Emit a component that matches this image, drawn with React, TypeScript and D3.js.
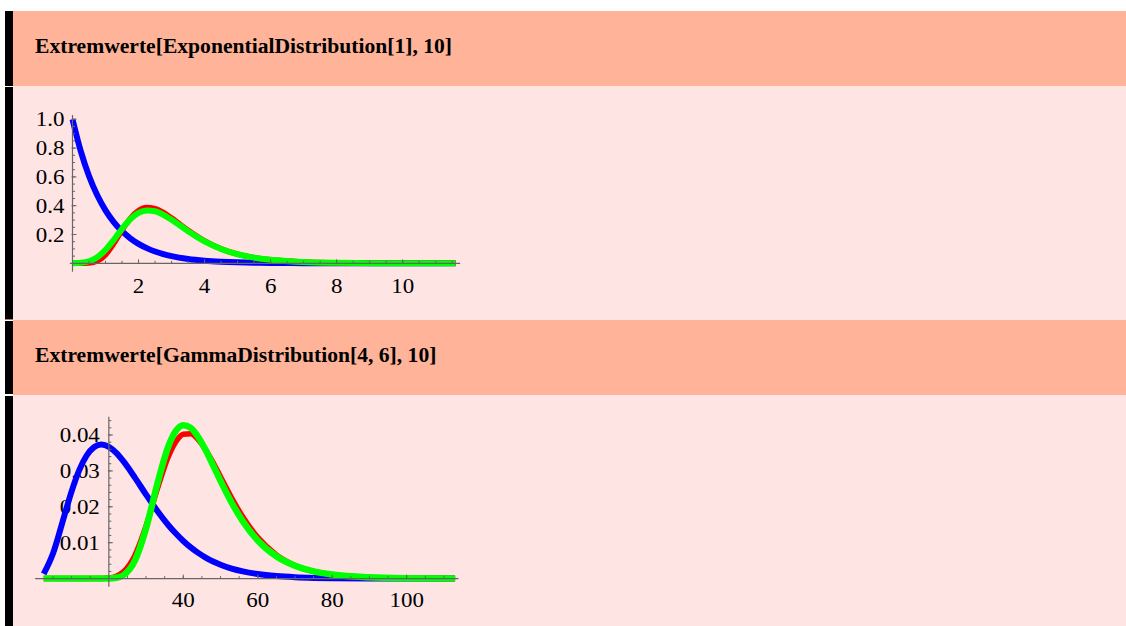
import React from 'react';
import * as d3 from 'd3';

const W = 1126;
const H = 626;

// ---------- texts ----------
const header1 = 'Extremwerte[ExponentialDistribution[1], 10]';
const header2 = 'Extremwerte[GammaDistribution[4, 6], 10]';

// ---------- plot 1 data (ExponentialDistribution[1]) ----------
const expX = [0, 0.25, 0.5, 0.75, 1, 1.25, 1.5, 1.75, 2, 2.25, 2.5, 2.75, 3, 3.5, 4, 4.5, 5, 5.5, 6, 7, 8, 9, 10, 11.6];
const expBlue = [1, 0.7788, 0.6065, 0.4724, 0.3679, 0.2865, 0.2231, 0.1738, 0.1353, 0.1054, 0.0821, 0.0639, 0.0498, 0.0302, 0.0183, 0.0111, 0.0067, 0.0041, 0.0025, 0.0009, 0.0003, 0.0001, 0.00005, 0.00001];
const expRed = [0, 0.00001, 0.0014, 0.015, 0.0593, 0.1373, 0.2302, 0.3118, 0.3658, 0.3868, 0.3797, 0.3528, 0.3144, 0.2291, 0.1551, 0.1005, 0.0634, 0.0394, 0.0242, 0.0091, 0.0033, 0.0012, 0.0005, 0.0001];
const expGreen = [0.0005, 0.0032, 0.0141, 0.0419, 0.0929, 0.1632, 0.2397, 0.3057, 0.3497, 0.3673, 0.3612, 0.3374, 0.3026, 0.2233, 0.1525, 0.0994, 0.063, 0.0392, 0.0242, 0.009, 0.0033, 0.0012, 0.0005, 0.0001];
const expXTicks = [2, 4, 6, 8, 10];
const expYTicks = [0.2, 0.4, 0.6, 0.8, 1.0];

// ---------- plot 2 data (GammaDistribution[4, 6]) ----------
const gamX = [2.5, 5, 8, 10, 12, 14, 16, 18, 20, 22, 24, 27, 30, 33, 36, 38, 40, 42, 44, 46, 48, 50, 53, 56, 60, 65, 70, 75, 80, 90, 100, 113];
const gamBlue = [0.0013, 0.00699, 0.01736, 0.02429, 0.03008, 0.03422, 0.0366, 0.03734, 0.0367, 0.035, 0.03256, 0.02812, 0.0234, 0.01889, 0.01487, 0.01256, 0.01048, 0.00869, 0.00716, 0.00586, 0.00477, 0.00387, 0.00279, 0.002, 0.00126, 0.0007, 0.00038, 0.0002, 0.00011, 0.00003, 0.00001, 0];
const gamRed = [0, 0, 0, 0, 0, 0, 0.00001, 0.00003, 0.00017, 0.00067, 0.00196, 0.00647, 0.01466, 0.02488, 0.03401, 0.03812, 0.04023, 0.04032, 0.03874, 0.03591, 0.03232, 0.02837, 0.02246, 0.01716, 0.01148, 0.00662, 0.00368, 0.00199, 0.00106, 0.00029, 0.00008, 0.00001];
const gamGreen = [0, 0, 0, 0, 0, 0, 0, 0, 0.00003, 0.00022, 0.001, 0.00499, 0.01402, 0.02626, 0.03686, 0.04113, 0.04274, 0.042, 0.03946, 0.0358, 0.03157, 0.02723, 0.02113, 0.01595, 0.01063, 0.00622, 0.00357, 0.00202, 0.00114, 0.00036, 0.00011, 0.00002];
const gamXTicks = [40, 60, 80, 100];
const gamYTicks = [0.01, 0.02, 0.03, 0.04];

const SALMON = '#ffb399';
const PINK = '#ffe4e4';
const AXIS = '#666666';
const FONT = '"Liberation Serif", "Times New Roman", serif';

type PlotSpec = {
  xs: number[];
  series: { vals: number[]; color: string; width: number }[];
  x: d3.ScaleLinear<number, number>;
  y: d3.ScaleLinear<number, number>;
  ox: number;
  xAxisExt: [number, number];
  yAxisExt: [number, number];
  xMinor: number[];
  yMinor: number[];
  xMajor: number[];
  yMajor: number[];
  xLabels: number[];
  yLabels: number[];
  yFmt: (v: number) => string;
  xLabelDy: number;
  yLabelGap: number;
};

function Plot({ p }: { p: PlotSpec }) {
  const ax = p.x(p.ox);
  const ay = p.y(0);
  const line = d3
    .line<[number, number]>()
    .x((d) => p.x(d[0]))
    .y((d) => p.y(d[1]))
    .curve(d3.curveMonotoneX);
  const sx = 1.12;
  const fs = 20.5;
  return (
    <g>
      {p.yLabels.map((v) => (
        <text
          key={'yl' + v}
          transform={`translate(${ax - p.yLabelGap},${p.y(v) + 7}) scale(${sx},1)`}
          textAnchor="end"
          fontFamily={FONT}
          fontSize={fs}
          fill="#000"
        >
          {p.yFmt(v)}
        </text>
      ))}
      {p.xLabels.map((v) => (
        <text
          key={'xl' + v}
          transform={`translate(${p.x(v)},${ay + p.xLabelDy}) scale(${sx},1)`}
          textAnchor="middle"
          fontFamily={FONT}
          fontSize={fs}
          fill="#000"
        >
          {String(v)}
        </text>
      ))}
      {p.series.map((s, i) => (
        <path
          key={'s' + i}
          d={line(p.xs.map((xv, j) => [xv, s.vals[j]] as [number, number])) || ''}
          fill="none"
          stroke={s.color}
          strokeWidth={s.width}
          strokeLinejoin="round"
        />
      ))}
      <line x1={p.x(p.xAxisExt[0])} x2={p.x(p.xAxisExt[1])} y1={ay} y2={ay} stroke={AXIS} strokeWidth={1.2} />
      <line x1={ax} x2={ax} y1={p.y(p.yAxisExt[0])} y2={p.y(p.yAxisExt[1])} stroke={AXIS} strokeWidth={1.2} />
      {p.xMinor.map((v) => (
        <line key={'xm' + v} x1={p.x(v)} x2={p.x(v)} y1={ay} y2={ay - 2.5} stroke={AXIS} strokeWidth={1} />
      ))}
      {p.xMajor.map((v) => (
        <line key={'xM' + v} x1={p.x(v)} x2={p.x(v)} y1={ay} y2={ay - 4} stroke={AXIS} strokeWidth={1} />
      ))}
      {p.yMinor.map((v) => (
        <line key={'ym' + v} x1={ax} x2={ax + 2.5} y1={p.y(v)} y2={p.y(v)} stroke={AXIS} strokeWidth={1} />
      ))}
      {p.yMajor.map((v) => (
        <line key={'yM' + v} x1={ax - 1} x2={ax + 4} y1={p.y(v)} y2={p.y(v)} stroke={AXIS} strokeWidth={1} />
      ))}
    </g>
  );
}

export default function App() {
  const x1 = d3.scaleLinear().domain([0, 10]).range([72.5, 402.7]);
  const y1 = d3.scaleLinear().domain([0, 1]).range([263.3, 119.3]);
  const x2 = d3.scaleLinear().domain([40, 100]).range([183.3, 406.7]);
  const y2 = d3.scaleLinear().domain([0, 0.04]).range([578.6, 435]);

  const p1: PlotSpec = {
    xs: expX,
    series: [
      { vals: expBlue, color: '#0000ff', width: 6 },
      { vals: expRed, color: '#ff0000', width: 5.5 },
      { vals: expGreen, color: '#00ff00', width: 6 },
    ],
    x: x1,
    y: y1,
    ox: 0,
    xAxisExt: [-0.08, 11.74],
    yAxisExt: [-0.058, 1.03],
    xMinor: d3.range(0.5, 11.6, 0.5),
    yMinor: d3.range(0.05, 1.01, 0.05),
    xMajor: [2, 4, 6, 8, 10],
    yMajor: expYTicks,
    xLabels: expXTicks,
    yLabels: expYTicks,
    yFmt: d3.format('.1f'),
    xLabelDy: 30,
    yLabelGap: 8,
  };
  const p2: PlotSpec = {
    xs: gamX,
    series: [
      { vals: gamBlue, color: '#0000ff', width: 6 },
      { vals: gamRed, color: '#ff0000', width: 5.5 },
      { vals: gamGreen, color: '#00ff00', width: 6.5 },
    ],
    x: x2,
    y: y2,
    ox: 20,
    xAxisExt: [0.2, 113.9],
    yAxisExt: [-0.0023, 0.0451],
    xMinor: d3.range(5, 111, 5),
    yMinor: d3.range(0.002, 0.0445, 0.002),
    xMajor: [40, 60, 80, 100],
    yMajor: gamYTicks,
    xLabels: gamXTicks,
    yLabels: gamYTicks,
    yFmt: d3.format('.2f'),
    xLabelDy: 28,
    yLabelGap: 9,
  };

  return (
    <svg
      width={W}
      height={H}
      style={{ position: 'absolute', left: 0, top: 0, display: 'block' }}
      xmlns="http://www.w3.org/2000/svg"
    >
      <rect x={0} y={0} width={W} height={H} fill="#ffffff" />
      <rect x={13} y={11} width={W - 13} height={75} fill={SALMON} />
      <rect x={13} y={86} width={W - 13} height={234} fill={PINK} />
      <rect x={13} y={320} width={W - 13} height={75} fill={SALMON} />
      <rect x={13} y={395} width={W - 13} height={H - 395} fill={PINK} />
      <rect x={5} y={11} width={8} height={75} fill="#000" />
      <rect x={5} y={87} width={8} height={232} fill="#000" />
      <rect x={5} y={321} width={8} height={73} fill="#000" />
      <rect x={5} y={396} width={8} height={H - 396} fill="#000" />
      <rect x={5} y={319} width={8} height={1} fill="#b07868" />
      <text x={35} y={53} fontFamily={FONT} fontWeight="bold" fontSize={21.6} fill="#000">
        {header1}
      </text>
      <text x={35} y={362} fontFamily={FONT} fontWeight="bold" fontSize={21.6} fill="#000">
        {header2}
      </text>
      <Plot p={p1} />
      <Plot p={p2} />
    </svg>
  );
}
